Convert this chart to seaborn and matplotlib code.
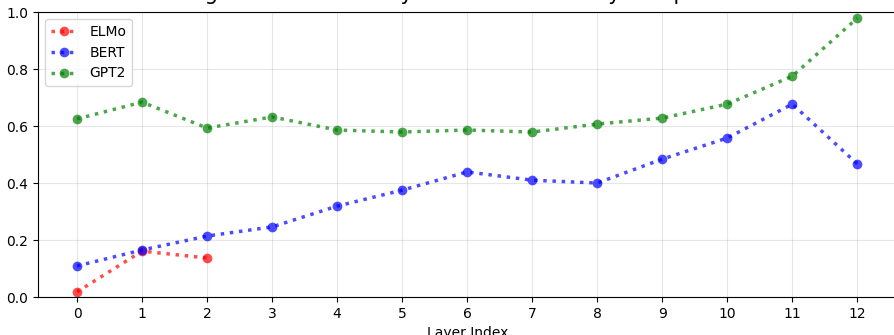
import matplotlib
matplotlib.use("Agg")
import matplotlib.pyplot as plt
import seaborn as sns
import pandas as pd

layers = list(range(13))
elmo = [0.018, 0.161, 0.137]
bert = [0.109, 0.165, 0.214, 0.246, 0.319, 0.375, 0.439, 0.410, 0.400, 0.484, 0.558, 0.677, 0.467]
gpt2 = [0.625, 0.684, 0.593, 0.632, 0.586, 0.579, 0.586, 0.579, 0.607, 0.628, 0.677, 0.775, 0.979]
models = ["ELMo", "BERT", "GPT2"]
colors = ["red", "blue", "green"]
title = "Average Cosine Similarity between Randomly Sampled Words"

rows = []
for name, vals in zip(models, [elmo, bert, gpt2]):
    for i, v in enumerate(vals):
        rows.append({"Layer Index": layers[i], "value": v, "model": name})
df = pd.DataFrame(rows)

fig = plt.figure(figsize=(8.95, 3.35), dpi=100)
ax = fig.add_axes([0.0425, 0.1134, 0.959, 0.8506])
sns.lineplot(data=df, x="Layer Index", y="value", hue="model", hue_order=models,
             palette=dict(zip(models, colors)), linestyle=":", linewidth=2.5,
             marker="o", markersize=7, markeredgewidth=0, alpha=0.7, ax=ax)
ax.set_ylim(0, 1.0)
ax.set_xlim(-0.6, 12.6)
ax.set_xticks(layers)
ax.set_ylabel("")
ax.grid(True, alpha=0.3)
ax.set_title(title, fontsize=15, pad=8.5)
ax.legend(loc="upper left", title=None)
fig.savefig("out.png", dpi=100)
